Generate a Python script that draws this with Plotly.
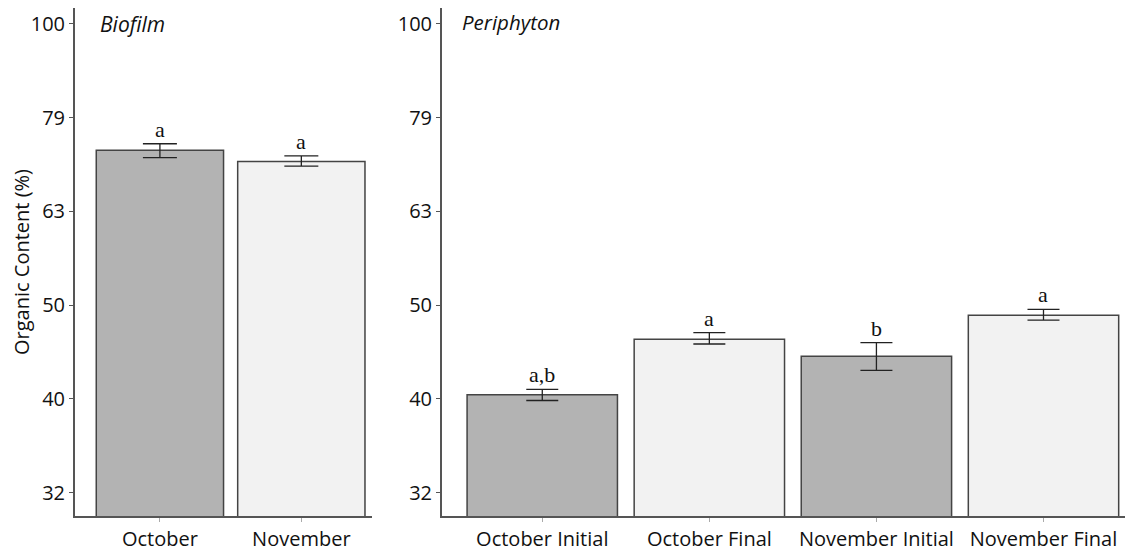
import numpy as np
import plotly.graph_objects as go

# ---- data ----
bio_cats = ["October", "November"]
bio_vals = [73.3, 71.3]
bio_hi = [74.5, 72.3]
bio_lo = [72.0, 70.5]
bio_letters = ["a", "a"]

per_cats = ["October Initial", "October Final", "November Initial", "November Final"]
per_vals = [40.2, 46.1, 44.2, 48.9]
per_hi = [40.75, 46.85, 45.7, 49.6]
per_lo = [39.65, 45.55, 42.7, 48.3]
per_letters = ["a,b", "a", "b", "a"]

tick_labels = ["32", "40", "50", "63", "79", "100"]
tick_exps = [1.5, 1.6, 1.7, 1.8, 1.9, 2.0]

dark = "#b3b3b3"
light = "#f2f2f2"
edge = "#444444"

bio_colors = [dark, light]
per_colors = [dark, light, dark, light]

SANS = "Open Sans, Lato, DejaVu Sans"
SERIF = "Liberation Serif, DejaVu Serif"

fig = go.Figure()

def add_panel(cats, vals, hi, lo, colors, xa, ya, capw):
    fig.add_trace(go.Bar(
        x=cats, y=vals, xaxis=xa, yaxis=ya,
        marker=dict(color=colors, line=dict(color=edge, width=1.5)),
        error_y=dict(type="data", symmetric=False,
                     array=[h - v for h, v in zip(hi, vals)],
                     arrayminus=[v - l for v, l in zip(vals, lo)],
                     color="#222222", thickness=1.3, width=capw),
        showlegend=False, hoverinfo="skip"))

add_panel(bio_cats, bio_vals, bio_hi, bio_lo, bio_colors, "x", "y", 17)
add_panel(per_cats, per_vals, per_hi, per_lo, per_colors, "x2", "y2", 16)

annots = []
for c, h, t in zip(bio_cats, bio_hi, bio_letters):
    annots.append(dict(x=c, y=np.log10(h), xref="x", yref="y", text=t, showarrow=False,
                       yanchor="bottom", yshift=0,
                       font=dict(family=SERIF, size=22, color="#111111")))
for c, h, t in zip(per_cats, per_hi, per_letters):
    annots.append(dict(x=c, y=np.log10(h), xref="x2", yref="y2", text=t, showarrow=False,
                       yanchor="bottom", yshift=0,
                       font=dict(family=SERIF, size=22, color="#111111")))
annots.append(dict(x=0.080, y=0.9706, xref="paper", yref="paper", text="<i>Biofilm</i>",
                   showarrow=False, xanchor="left", yanchor="middle",
                   font=dict(family=SANS, size=21, color="#111111")))
annots.append(dict(x=0.4018, y=0.974, xref="paper", yref="paper", text="<i>Periphyton</i>",
                   showarrow=False, xanchor="left", yanchor="middle",
                   font=dict(family=SANS, size=20.5, color="#111111")))

tickvals = [10 ** e for e in tick_exps]
yrange = [1.475, 2.017]

yax = dict(type="log", range=yrange, tickvals=tickvals, ticktext=tick_labels,
           showgrid=False, zeroline=False, showline=True, linecolor="#555555", linewidth=2,
           ticks="outside", ticklen=4, tickcolor="#555555",
           tickfont=dict(family=SANS, size=20, color="#111111"))
xax = dict(showgrid=False, zeroline=False, showline=True, linecolor="#555555", linewidth=2,
           ticks="outside", ticklen=4, tickcolor="#aaaaaa",
           tickfont=dict(family=SANS, size=20, color="#111111"))

fig.update_layout(
    width=1125, height=544,
    margin=dict(l=0, r=0, t=0, b=0),
    paper_bgcolor="white", plot_bgcolor="white",
    bargap=0.1,
    xaxis=dict(xax, domain=[0.0596, 0.3236], range=[-0.6, 1.5], anchor="y"),
    yaxis=dict(yax, domain=[0.0662, 1.0], anchor="x",
               title=dict(text="Organic Content (%)", standoff=2,
                          font=dict(family=SANS, size=20, color="#111111"))),
    xaxis2=dict(xax, domain=[0.3858, 0.9947], range=[-0.6, 3.5], anchor="y2"),
    yaxis2=dict(yax, domain=[0.0662, 1.0], anchor="x2"),
    annotations=annots,
)

fig.write_html("out.html")
